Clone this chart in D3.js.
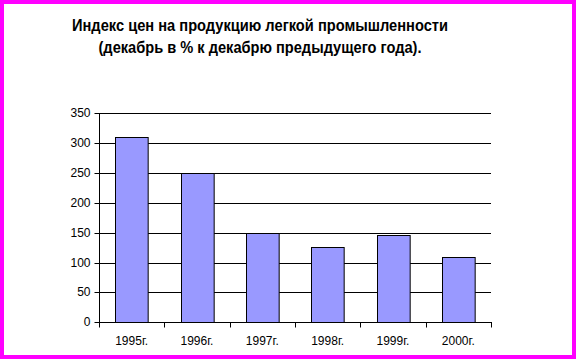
<!DOCTYPE html>
<html><head><meta charset="utf-8">
<script src="https://cdn.jsdelivr.net/npm/d3@7"></script>
<style>html,body{margin:0;padding:0;background:#fff;}svg{display:block;}</style>
</head><body>
<script>
const categories = ["1995г.", "1996г.", "1997г.", "1998г.", "1999г.", "2000г."];
const values = [310, 250, 150, 126, 147, 110];
const yTicks = [0, 50, 100, 150, 200, 250, 300, 350];
const titleLines = ["Индекс цен на продукцию легкой промышленности", "(декабрь в % к декабрю предыдущего года)."];
const titleWidths = [376, 323];

const W = 576, H = 359;
const svg = d3.select("body").append("svg").attr("width", W).attr("height", H);
svg.append("rect").attr("x", 0).attr("y", 0).attr("width", W).attr("height", H).attr("fill", "#fff");

const font = "'Liberation Sans', Arial, sans-serif";
const m = {left: 99, right: 491, top: 113.3, bottom: 322.3};

const x = d3.scaleBand().domain(categories).range([m.left, m.right]).paddingInner(0.5).paddingOuter(0.25);
const xb = d3.scaleBand().domain(categories).range([m.left, m.right]);
const y = d3.scaleLinear().domain([0, 350]).range([m.bottom, m.top]);

// gridlines
svg.append("g").selectAll("line").data(yTicks.filter(d => d > 0)).join("line")
  .attr("x1", m.left).attr("x2", m.right)
  .attr("y1", d => Math.round(y(d)) + 0.5).attr("y2", d => Math.round(y(d)) + 0.5)
  .attr("stroke", "#000").attr("stroke-width", 1);

// bars
svg.append("g").selectAll("rect").data(values).join("rect")
  .attr("x", (d, i) => Math.round(x(categories[i])) + 0.5)
  .attr("y", d => Math.round(y(d)) + 0.5)
  .attr("width", x.bandwidth())
  .attr("height", d => Math.round(y(0)) - Math.round(y(d)))
  .attr("fill", "#9999FF").attr("stroke", "#000").attr("stroke-width", 1);

// y axis
const yAxis = d3.axisLeft(y).tickValues(yTicks).tickSize(5).tickPadding(4);
const gy = svg.append("g").attr("transform", `translate(${m.left + 0.5},0.5)`).call(yAxis);
gy.select(".domain").attr("d", `M0,${Math.round(y(350))}V${Math.round(y(0))}`);
gy.selectAll("text").attr("font-family", font).attr("font-size", 12).attr("fill", "#000");
gy.selectAll(".tick").attr("transform", d => `translate(0,${Math.round(y(d))})`);

// x axis
const gx = svg.append("g").attr("transform", `translate(0,${Math.round(y(0)) + 0.5})`);
gx.append("line").attr("x1", m.left).attr("x2", m.right + 1).attr("stroke", "#000");
const bounds = categories.map(c => xb(c)).concat([m.right]);
gx.selectAll("line.t").data(bounds).join("line").attr("class", "t")
  .attr("x1", d => Math.round(d) + 0.5).attr("x2", d => Math.round(d) + 0.5)
  .attr("y1", 0).attr("y2", 5).attr("stroke", "#000");
gx.selectAll("text").data(categories).join("text")
  .attr("x", d => xb(d) + xb.bandwidth() / 2)
  .attr("y", 22)
  .attr("text-anchor", "middle")
  .attr("font-family", font).attr("font-size", 12).attr("fill", "#000")
  .text(d => d);

// title
svg.append("g").selectAll("text").data(titleLines).join("text")
  .attr("x", 260).attr("y", (d, i) => 30.7 + i * 22.7)
  .attr("text-anchor", "middle")
  .attr("textLength", (d, i) => titleWidths[i])
  .attr("lengthAdjust", "spacingAndGlyphs")
  .attr("font-family", font).attr("font-size", 16).attr("font-weight", "bold").attr("fill", "#000")
  .text(d => d);

// magenta border
svg.append("rect").attr("x", 2).attr("y", 2).attr("width", W - 4).attr("height", H - 4)
  .attr("fill", "none").attr("stroke", "#FF00FF").attr("stroke-width", 4);
</script>
</body></html>
